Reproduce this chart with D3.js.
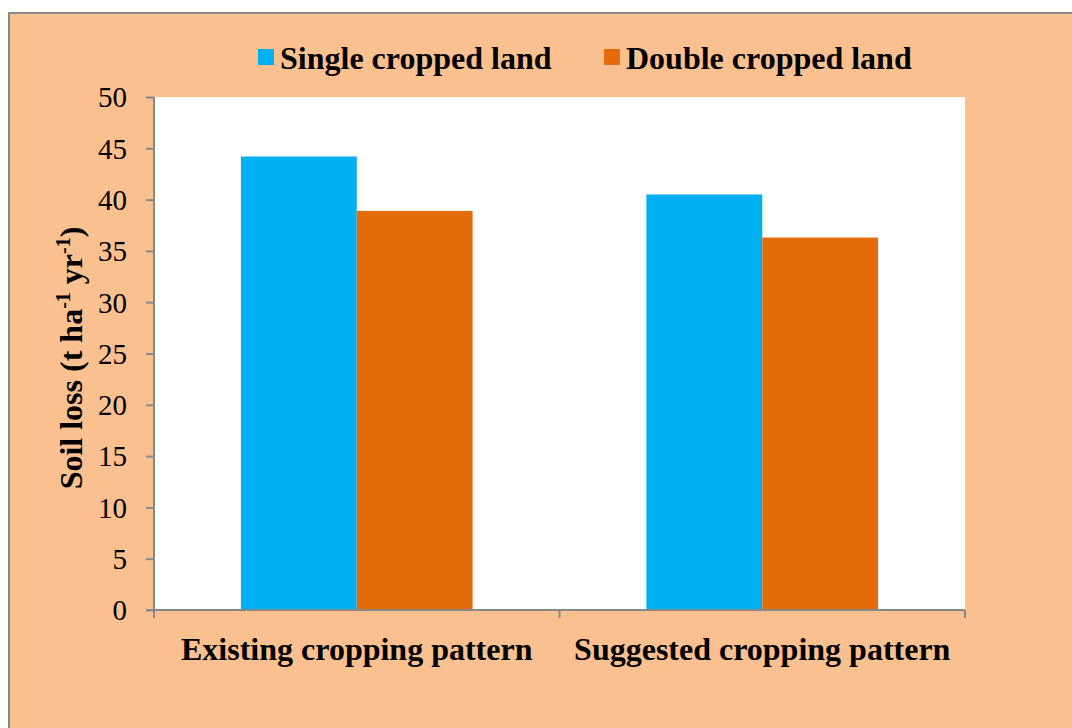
<!DOCTYPE html>
<html><head><meta charset="utf-8">
<script src="https://cdn.jsdelivr.net/npm/d3@7"></script>
<style>body{margin:0;background:#fff;}svg{display:block;} text{font-family:"Liberation Serif","Times New Roman",serif;}</style>
</head><body>
<script>
const categories = ["Existing cropping pattern", "Suggested cropping pattern"];
const seriesNames = ["Single cropped land", "Double cropped land"];
const singleValues = [44.2, 40.5];
const doubleValues = [38.9, 36.3];
const yTicks = [0, 5, 10, 15, 20, 25, 30, 35, 40, 45, 50];
const colors = ["#00B0F0", "#E46C0A"];

const W = 1072, H = 728;
const FONT = '"Liberation Serif","Times New Roman",serif';
const svg = d3.select("body").append("svg").attr("width", W).attr("height", H);

// outer frame
svg.append("rect").attr("x", 9).attr("y", 13).attr("width", W).attr("height", H)
  .attr("fill", "#FAC090").attr("stroke", "#888").attr("stroke-width", 2);

const plot = {l: 154, r: 965, t: 97, b: 610};
svg.append("rect").attr("x", plot.l).attr("y", plot.t)
  .attr("width", plot.r - plot.l).attr("height", plot.b - plot.t).attr("fill", "#fff");

const x0 = d3.scaleBand().domain(categories).range([plot.l, plot.r]).paddingInner(0).paddingOuter(0);
const x1 = d3.scaleBand().domain(seriesNames).range([0, x0.bandwidth()]).paddingInner(0).paddingOuter(0.75);
const y = d3.scaleLinear().domain([0, 50]).range([plot.b, plot.t]);

const data = categories.map((c, i) => ({cat: c, vals: [singleValues[i], doubleValues[i]]}));

const g = svg.append("g");
data.forEach(d => {
  d.vals.forEach((v, j) => {
    g.append("rect")
      .attr("x", x0(d.cat) + x1(seriesNames[j]))
      .attr("y", y(v))
      .attr("width", x1.bandwidth())
      .attr("height", y(0) - y(v))
      .attr("fill", colors[j]);
  });
});

// y axis
const yAxis = svg.append("g").attr("transform", `translate(${plot.l},0)`)
  .call(d3.axisLeft(y).tickValues(yTicks).tickSize(8).tickPadding(19));
yAxis.attr("font-family", null).attr("font-size", null);
yAxis.select(".domain").attr("stroke", "#888").attr("stroke-width", 2).attr("d", `M0,${plot.t}V${plot.b}`);
yAxis.selectAll(".tick line").attr("stroke", "#888").attr("stroke-width", 2);
yAxis.selectAll(".tick text").style("font-family", FONT).style("font-size", "29px").attr("fill", "#000").attr("dy", "0.34em");

// x axis
const xAxis = svg.append("g").attr("transform", `translate(0,${plot.b})`);
xAxis.append("line").attr("x1", plot.l - 8).attr("x2", plot.r).attr("y1", 0).attr("y2", 0)
  .attr("stroke", "#888").attr("stroke-width", 2);
const bounds = [plot.l, x0(categories[1]), plot.r];
bounds.forEach(bx => {
  xAxis.append("line").attr("x1", bx).attr("x2", bx).attr("y1", 0).attr("y2", 8)
    .attr("stroke", "#888").attr("stroke-width", 2);
});
categories.forEach(c => {
  xAxis.append("text").attr("x", x0(c) + x0.bandwidth() / 2).attr("y", 50)
    .attr("text-anchor", "middle").style("font-family", FONT)
    .style("font-weight", "bold").style("font-size", "32px").attr("fill", "#000").text(c);
});

// y title
const yt = svg.append("text").attr("transform", `translate(82,358) rotate(-90)`)
  .attr("text-anchor", "middle").style("font-family", FONT)
  .style("font-weight", "bold").style("font-size", "32px").attr("fill", "#000");
yt.append("tspan").text("Soil loss (t ha");
yt.append("tspan").style("font-size", "20px").attr("dy", -12).text("-1");
yt.append("tspan").attr("dy", 12).text(" yr");
yt.append("tspan").style("font-size", "20px").attr("dy", -12).text("-1");
yt.append("tspan").attr("dy", 12).text(")");

// legend
const legendX = [258, 604];
seriesNames.forEach((s, i) => {
  svg.append("rect").attr("x", legendX[i]).attr("y", 49).attr("width", 16).attr("height", 16).attr("fill", colors[i]);
  svg.append("text").attr("x", legendX[i] + 22).attr("y", 69)
    .style("font-family", FONT).style("font-weight", "bold")
    .style("font-size", "32px").attr("fill", "#000").text(s);
});
</script>
</body></html>
